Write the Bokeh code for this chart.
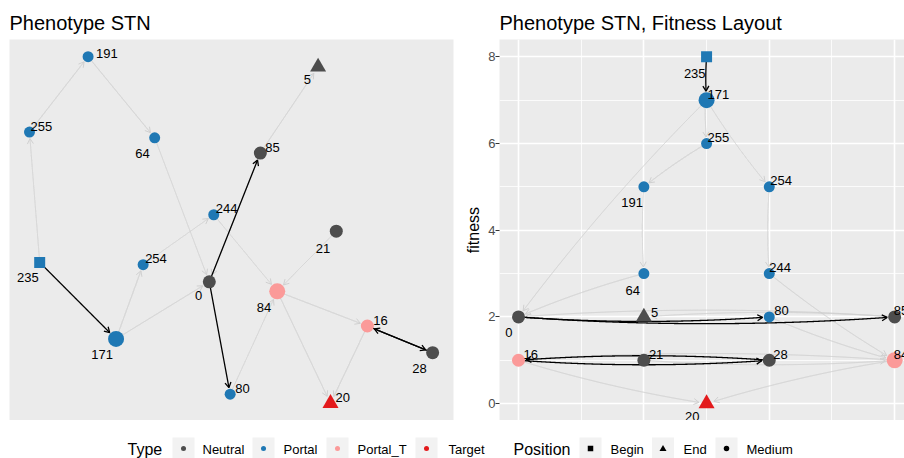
import numpy as np
from bokeh.plotting import figure
from bokeh.models import Range1d, FixedTicker, Grid, ColumnDataSource
from bokeh.layouts import column, row
from bokeh.embed import file_html
from bokeh.resources import INLINE
from bokeh.core.properties import value

FONT = "Liberation Sans"

# ---------------- data ----------------
node_ids = ["235", "171", "255", "191", "254", "64", "244", "0",
            "5", "80", "85", "16", "21", "28", "84", "20"]
node_type = ["Portal", "Portal", "Portal", "Portal", "Portal", "Portal", "Portal", "Neutral",
             "Neutral", "Portal", "Neutral", "Portal_T", "Neutral", "Neutral", "Portal_T", "Target"]
node_position = ["Begin", "Medium", "Medium", "Medium", "Medium", "Medium", "Medium", "Medium",
                 "End", "Medium", "Medium", "Medium", "Medium", "Medium", "Medium", "End"]
node_count = [1, 3, 1, 1, 1, 1, 1, 2, 1, 1, 2, 2, 2, 2, 3, 1]

# network layout coordinates (left panel)
layout_x = [0.68, 2.40, 0.45, 1.77, 3.01, 3.27, 4.60, 4.50,
            6.95, 4.97, 5.65, 8.06, 7.36, 9.53, 6.03, 7.23]
layout_y = [4.15, 2.14, 7.57, 9.55, 4.09, 7.42, 5.40, 3.64,
            9.28, 0.69, 7.02, 2.48, 4.97, 1.78, 3.39, 0.45]

# fitness layout (right panel)
fit_x = [3, 3, 3, 2, 4, 2, 4, 0, 2, 4, 6, 0, 2, 4, 6, 3]
fitness = [8, 7, 6, 5, 5, 3, 3, 2, 2, 2, 2, 1, 1, 1, 1, 0]

edge_from = ["235", "255", "191", "64", "171", "171", "254", "244", "21", "80",
             "84", "84", "16", "85", "85", "235", "0", "0", "16", "28"]
edge_to = ["255", "191", "64", "0", "0", "254", "244", "84", "84", "84",
           "16", "20", "20", "5", "0", "171", "85", "80", "28", "16"]
edge_best = [False] * 15 + [True] * 5

type_levels = ["Neutral", "Portal", "Portal_T", "Target"]
position_levels = ["Begin", "End", "Medium"]
y_ticks = [0, 2, 4, 6, 8]

# ---------------- styles ----------------
type_colors = {"Neutral": "#4D4D4D", "Portal": "#1F78B4", "Portal_T": "#FB9A99", "Target": "#E31A1C"}
pos_marker = {"Begin": "square", "End": "triangle", "Medium": "circle"}
circle_size = {1: 11, 2: 13, 3: 16}
PANEL_BG = "#EBEBEB"
GRAY_EDGE = "#D0D0D0"

colors = [type_colors[t] for t in node_type]
markers = [pos_marker[p] for p in node_position]
sizes = []
for p, c in zip(node_position, node_count):
    if p == "Begin":
        sizes.append(11)
    elif p == "End":
        sizes.append(16)
    else:
        sizes.append(circle_size[c])
radii = [s / 2 if m != "triangle" else s * 0.42 for s, m in zip(sizes, markers)]
idx = {n: i for i, n in enumerate(node_ids)}

# label placement (align, dx, dy in px from node)
left_labels = {
    "191": ("left", 8, -3), "5": ("right", -7, 13), "255": ("left", 1, -6),
    "64": ("right", -5, 16), "85": ("left", 5, -6), "244": ("left", 2, -6),
    "21": ("right", -6, 17), "235": ("right", -1, 15), "254": ("left", 2, -6),
    "0": ("right", -7, 14), "84": ("right", -6, 16), "16": ("left", 6, -6),
    "171": ("right", -3, 16), "28": ("right", -6, 16), "80": ("left", 5, -6),
    "20": ("left", 5, -6),
}
right_labels = {
    "235": ("right", -1, 17), "171": ("left", 1, -6), "255": ("left", 1, -6),
    "191": ("right", -1, 16), "254": ("left", 1, -6), "64": ("right", -4, 17),
    "244": ("left", 0, -6), "0": ("right", -6, 16), "5": ("left", 7, -4),
    "80": ("left", 5, -6), "85": ("left", -1, -6), "16": ("left", 5, -6),
    "21": ("left", 5, -6), "28": ("left", 4, -6), "84": ("left", -1, -6),
    "20": ("right", -7, 13),
}


def edge_geometry(px, py, sx, sy, curv, best_flag):
    lx, ly, hx, hy = [], [], [], []
    for f, t_, b in zip(edge_from, edge_to, edge_best):
        if b != best_flag:
            continue
        a, c = idx[f], idx[t_]
        x0, y0 = px[a] * sx, py[a] * sy
        x1, y1 = px[c] * sx, py[c] * sy
        dx, dy = x1 - x0, y1 - y0
        L = np.hypot(dx, dy)
        t = np.linspace(0, 1, 600)
        if curv:
            nx, ny = dy / L, -dx / L
            cx = (x0 + x1) / 2 + nx * 2 * curv * L
            cy = (y0 + y1) / 2 + ny * 2 * curv * L
            X = (1 - t) ** 2 * x0 + 2 * (1 - t) * t * cx + t ** 2 * x1
            Y = (1 - t) ** 2 * y0 + 2 * (1 - t) * t * cy + t ** 2 * y1
        else:
            X = x0 + t * dx
            Y = y0 + t * dy
        d = np.hypot(X - x1, Y - y1)
        keep = d >= radii[c] + 1
        X, Y = X[keep], Y[keep]
        lx.append(X / sx)
        ly.append(Y / sy)
        # arrow head
        Tx, Ty = X[-1], Y[-1]
        back = np.hypot(X - Tx, Y - Ty)
        j = np.argmax(back < 4)
        ux, uy = Tx - X[j], Ty - Y[j]
        n = np.hypot(ux, uy)
        ux, uy = ux / n, uy / n
        hl = 6
        ang = np.radians(30)
        pts = []
        for s in (ang, -ang):
            rx = ux * np.cos(s) - uy * np.sin(s)
            ry = ux * np.sin(s) + uy * np.cos(s)
            pts.append((Tx - hl * rx, Ty - hl * ry))
        hx.append(np.array([pts[0][0], Tx, pts[1][0]]) / sx)
        hy.append(np.array([pts[0][1], Ty, pts[1][1]]) / sy)
    return lx, ly, hx, hy


def draw_network(p, px, py, sx, sy, curv, labels):
    for best, col, w in ((False, GRAY_EDGE, 1.0), (True, "#000000", 1.3)):
        lx, ly, hx, hy = edge_geometry(px, py, sx, sy, curv, best)
        p.multi_line(lx, ly, line_color=col, line_width=w)
        p.multi_line(hx, hy, line_color=col, line_width=w)
    src = ColumnDataSource(dict(x=px, y=py, c=colors, m=markers, s=sizes))
    p.scatter("x", "y", source=src, marker="m", size="s", fill_color="c", line_color=None)
    lab = ColumnDataSource(dict(
        x=px, y=py, t=node_ids,
        al=[labels[n][0] for n in node_ids],
        dx=[labels[n][1] for n in node_ids],
        dy=[labels[n][2] for n in node_ids],
    ))
    p.text("x", "y", text="t", source=lab, text_align="al", x_offset="dx", y_offset="dy",
           text_baseline="alphabetic", text_font=value(FONT), text_font_size="13px",
           text_color="#000000")


def style_title(p):
    p.title.text_font = FONT
    p.title.text_font_size = "20px"
    p.title.text_font_style = "normal"
    p.title.text_color = "#000000"
    p.title.align = "left"
    p.title.standoff = 11


FRAME_H = 381
TOP = 39

# ---------------- left panel ----------------
left = figure(title="Phenotype STN", frame_width=444, frame_height=FRAME_H,
              x_range=Range1d(0, 10), y_range=Range1d(0, 10),
              x_axis_type=None, y_axis_type=None,
              output_backend="svg", toolbar_location=None,
              min_border_left=9, min_border_right=3, min_border_top=TOP, min_border_bottom=0,
              background_fill_color=PANEL_BG, border_fill_color="white", outline_line_color=None)
style_title(left)
draw_network(left, layout_x, layout_y, 44.4, 38.1, 0, left_labels)

# ---------------- right panel ----------------
xr = Range1d(-0.303, 6.157)
yr = Range1d(-0.39, 8.40)
right = figure(title="Phenotype STN, Fitness Layout", frame_width=405, frame_height=FRAME_H,
               x_range=xr, y_range=yr, x_axis_type=None,
               output_backend="svg", toolbar_location=None,
               min_border_left=43, min_border_right=0, min_border_top=TOP, min_border_bottom=0,
               background_fill_color=PANEL_BG, border_fill_color="white", outline_line_color=None)
style_title(right)
yt = FixedTicker(ticks=y_ticks, minor_ticks=[1, 3, 5, 7])
right.yaxis.ticker = yt
right.ygrid.ticker = yt
right.ygrid.grid_line_color = "white"
right.ygrid.grid_line_width = 1.6
right.ygrid.minor_grid_line_color = "white"
right.ygrid.minor_grid_line_width = 0.8
xg = Grid(dimension=0, ticker=FixedTicker(ticks=[0, 2, 4, 6], minor_ticks=[1, 3, 5]),
          grid_line_color="white", grid_line_width=1.6,
          minor_grid_line_color="white", minor_grid_line_width=0.8)
right.add_layout(xg)
ax = right.yaxis[0]
ax.axis_label = "fitness"
ax.axis_label_text_font = FONT
ax.axis_label_text_font_size = "16px"
ax.axis_label_text_font_style = "normal"
ax.axis_label_text_color = "#000000"
ax.axis_label_standoff = 3
ax.axis_line_color = None
ax.major_tick_in = 0
ax.major_tick_out = 4
ax.major_tick_line_color = "#333333"
ax.minor_tick_line_color = None
ax.major_label_text_font = FONT
ax.major_label_text_font_size = "13px"
ax.major_label_text_color = "#4D4D4D"
ax.major_label_standoff = 0
draw_network(right, fit_x, fitness, 62.69, 43.34, 0.018, right_labels)

# ---------------- legend ----------------
LEG_H = 38
leg = figure(frame_width=904, frame_height=LEG_H, x_range=Range1d(0, 904), y_range=Range1d(LEG_H, 0),
             x_axis_type=None, y_axis_type=None, output_backend="svg", toolbar_location=None,
             min_border=0, outline_line_color=None, background_fill_color="white",
             border_fill_color="white")
yc = 29
type_key_x = [183, 263, 337, 426]
type_lab_x = [202, 283, 357, 448]
pos_key_x = [590, 662.5, 726]
pos_lab_x = [610, 683, 746]
leg.text([127], [yc], text=["Type"], text_font=value(FONT), text_font_size="16px",
         text_baseline="middle", text_align="left", text_color="#000000")
leg.text([513], [yc], text=["Position"], text_font=value(FONT), text_font_size="16px",
         text_baseline="middle", text_align="left", text_color="#000000")
leg.rect(type_key_x + pos_key_x, [yc - 1] * 7, width=22, height=22, fill_color="#F2F2F2", line_color=None)
leg.scatter(type_key_x, [yc - 1] * 4, size=5, fill_color=[type_colors[t] for t in type_levels], line_color=None)
leg.scatter(pos_key_x, [yc - 1, yc - 0.5, yc - 1], size=[5.5, 7, 5.5],
            marker=[pos_marker[p] for p in position_levels],
            fill_color="#000000", line_color=None)
leg.text(type_lab_x + pos_lab_x, [yc] * 7, text=type_levels + position_levels, text_font=value(FONT),
         text_font_size="13px", text_baseline="middle", text_align="left", text_color="#000000")

layout = column(row(left, right), leg)
open("out.html", "w").write(file_html(layout, INLINE))
